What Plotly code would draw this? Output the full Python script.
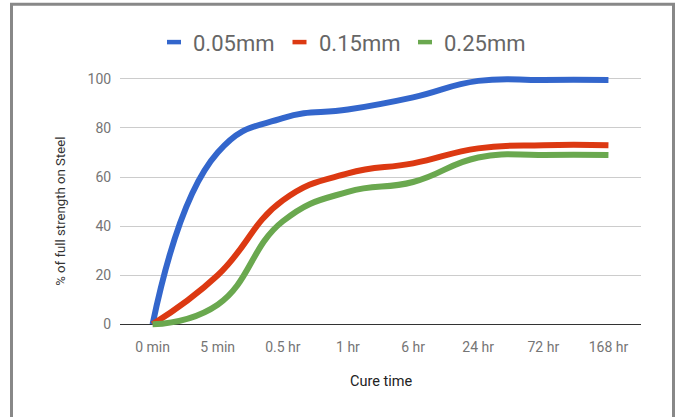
import plotly.graph_objects as go

categories = ["0 min", "5 min", "0.5 hr", "1 hr", "6 hr", "24 hr", "72 hr", "168 hr"]
series_names = ["0.05mm", "0.15mm", "0.25mm"]
s005 = [0, 70, 84, 87.5, 92.5, 99.2, 99.6, 99.6]
s015 = [0, 20, 50.5, 61.5, 65.6, 71.7, 73, 73]
s025 = [0, 8, 42, 54, 58, 68, 69, 69]
series_values = [s005, s015, s025]
colors = ["#3366cc", "#dc3912", "#6aa84f"]
y_ticks = [0, 20, 40, 60, 80, 100]
x_title = "Cure time"
y_title = "% of full strength on Steel"

W, H = 677, 417
L, R = 120, 641          # plot area in px
PX_PER_UNIT = 2.45
Y0_PX = 324
Y_MIN, Y_MAX = -1.5, 102
TOP = Y0_PX - Y_MAX * PX_PER_UNIT
BOT = Y0_PX - Y_MIN * PX_PER_UNIT


def px_x(px):
    return (px - L) / (R - L)


def px_y(py):
    return (BOT - py) / (BOT - TOP)


FONT = "Roboto"
fig = go.Figure()
for name, vals, col in zip(series_names, series_values, colors):
    fig.add_trace(go.Scatter(
        x=list(range(len(categories))), y=vals, name=name, mode="lines",
        line=dict(color=col, width=6, shape="spline", smoothing=1.3),
        cliponaxis=False, showlegend=False, hoverinfo="skip"))

shapes = [dict(type="rect", xref="paper", yref="paper",
               x0=px_x(11.5), x1=px_x(673.5), y0=px_y(4.5), y1=px_y(430),
               line=dict(color="#888888", width=3), fillcolor="rgba(0,0,0,0)",
               layer="below")]
annotations = []
for i, (name, col) in enumerate(zip(series_names, colors)):
    x0 = 167 + 125.5 * i
    shapes.append(dict(type="rect", xref="paper", yref="paper",
                       x0=px_x(x0), x1=px_x(x0 + 14), y0=px_y(44.5), y1=px_y(40),
                       line=dict(width=0), fillcolor=col))
    annotations.append(dict(text=name, xref="paper", yref="paper",
                            x=px_x(x0 + 24), y=px_y(43.5), xanchor="left",
                            yanchor="middle", showarrow=False,
                            font=dict(family=FONT, size=22, color="#666666")))

annotations.append(dict(text=x_title, xref="paper", yref="paper",
                        x=px_x(381), y=px_y(381.5), xanchor="center",
                        yanchor="middle", showarrow=False,
                        font=dict(family=FONT, size=14.5, color="#222222")))
annotations.append(dict(text=y_title, xref="paper", yref="paper",
                        x=px_x(61), y=px_y(211.7), xanchor="center",
                        yanchor="middle", showarrow=False, textangle=-90,
                        font=dict(family=FONT, size=13.2, color="#333333")))

fig.update_layout(
    template="none",
    width=W, height=H,
    margin=dict(l=L, r=W - R, t=TOP, b=H - BOT, pad=0, autoexpand=False),
    paper_bgcolor="white", plot_bgcolor="white",
    showlegend=False,
    shapes=shapes, annotations=annotations,
    xaxis=dict(range=[-0.5, len(categories) - 0.5], tickmode="array",
               tickvals=list(range(len(categories))), ticktext=categories,
               showgrid=False, zeroline=False, showline=False,
               ticks="outside", ticklen=6, tickcolor="rgba(0,0,0,0)",
               tickfont=dict(family=FONT, size=14, color="#757575"),
               fixedrange=True),
    yaxis=dict(range=[Y_MIN, Y_MAX], tickmode="array", tickvals=y_ticks,
               showgrid=True, gridcolor="#cccccc", gridwidth=1,
               zeroline=True, zerolinecolor="#333333", zerolinewidth=1.3,
               showline=False, ticks="outside", ticklen=5,
               tickcolor="rgba(0,0,0,0)",
               tickfont=dict(family=FONT, size=14, color="#757575"),
               fixedrange=True),
)

fig.write_html(
    "out.html",
    config={"displayModeBar": False},
    post_script="document.body.style.margin='0';document.body.style.overflow='hidden';",
)
